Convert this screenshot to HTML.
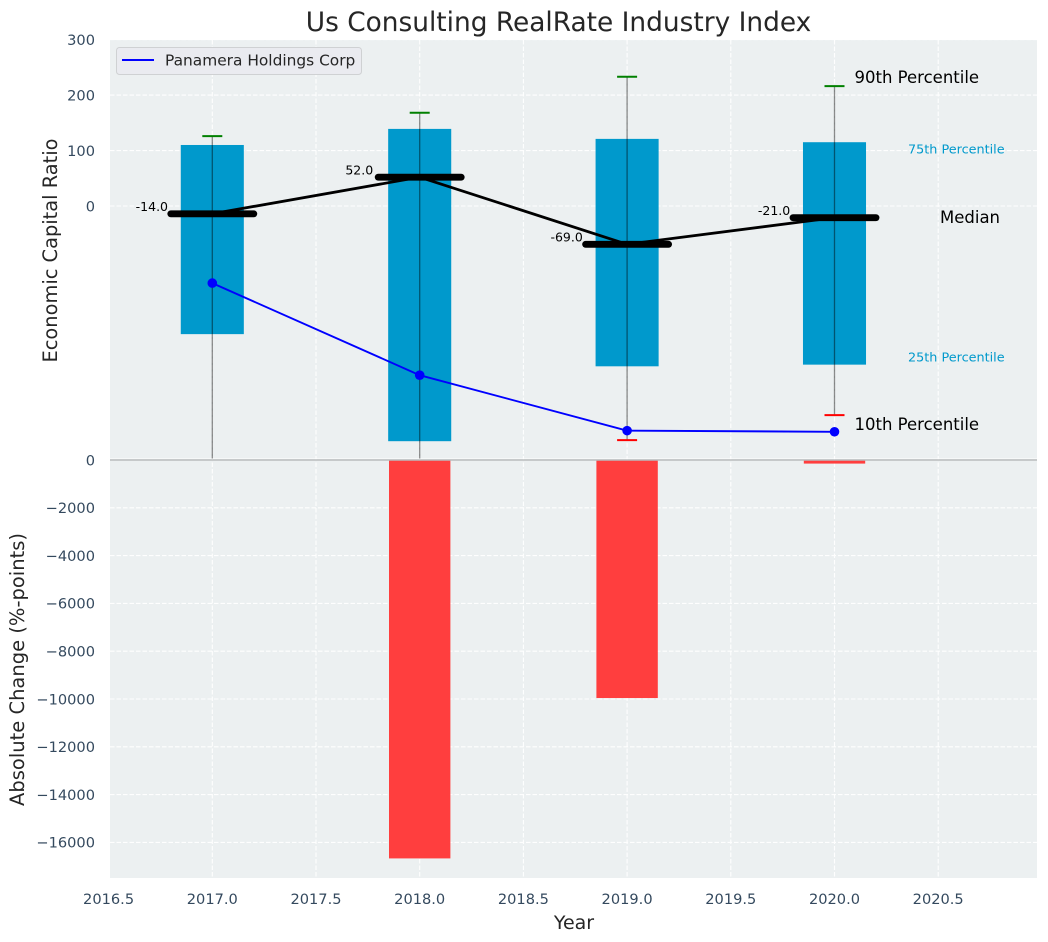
<!DOCTYPE html>
<html lang="en">
<head>
<meta charset="utf-8">
<title>Us Consulting RealRate Industry Index</title>
<style>
html,body{margin:0;padding:0;background:#fff;width:1048px;height:942px;overflow:hidden}
svg{display:block;font-family:"DejaVu Sans","Liberation Sans",sans-serif}
</style>
</head>
<body>
<svg id="chart" xmlns="http://www.w3.org/2000/svg" width="1048" height="942" viewBox="0 0 1048 942">
  <defs>
    <clipPath id="clip-top"><rect x="110" y="40" width="927" height="418.5"/></clipPath>
    <clipPath id="clip-bottom"><rect x="110" y="460" width="927" height="418"/></clipPath>
  </defs>
  <rect x="110" y="40" width="927" height="418.5" fill="#ecf0f1"/>
  <rect x="110" y="459" width="927" height="419" fill="#ecf0f1"/>
  <g id="grid"></g>
  <g id="lower-bars" clip-path="url(#clip-bottom)"></g>
  <line x1="110" x2="1037" y1="460" y2="460" stroke="#b9bcbd" stroke-width="1.4"/>
  <g id="upper-marks" clip-path="url(#clip-top)"></g>
  <g id="ticks"></g>
  <g id="annotations"></g>

  <text x="558.5" y="31" text-anchor="middle" font-size="26.4" fill="#262626">Us Consulting RealRate Industry Index</text>
  <text x="574" y="929" text-anchor="middle" font-size="19" fill="#262626">Year</text>
  <text transform="translate(57,250.5) rotate(-90)" text-anchor="middle" font-size="19.4" fill="#262626">Economic Capital Ratio</text>
  <text transform="translate(24,669.5) rotate(-90)" text-anchor="middle" font-size="19.5" fill="#262626">Absolute Change (%-points)</text>

  <g>
    <rect x="116.5" y="47.5" width="245" height="27" rx="3" fill="#eaebf0" stroke="#cfd1d3" stroke-width="1"/>
    <line x1="122" x2="154" y1="60" y2="60" stroke="#0000ff" stroke-width="2"/>
    <text x="165" y="65.5" font-size="15.4" fill="#262626">Panamera Holdings Corp</text>
  </g>
</svg>
<script>
const years = [2017, 2018, 2019, 2020];
const p90 = [126, 168, 233, 216];
const p75 = [110, 139, 121, 115];
const median = [-14, 52, -69, -21];
const p25 = [-231, -424, -289, -286];
const p10 = [-470, -480, -422, -377];
const company = [-139, -305, -405, -407];
const absChange = [0, -16670, -9960, -150];
const xTicks = [2016.5, 2017, 2017.5, 2018, 2018.5, 2019, 2019.5, 2020, 2020.5];
const upperTicks = [300, 200, 100, 0];
const lowerTicks = [0, -2000, -4000, -6000, -8000, -10000, -12000, -14000, -16000];

const NS = 'http://www.w3.org/2000/svg';
const xAt = v => 212.3 + (v - 2017) * 207.4;
const yUp = v => 206 - v * 0.5547;
const yLow = v => 460 - v * 0.0239;
const BAR_HALF = 0.152;
const RED_HALF = 0.148;
const MED_HALF = 0.2;
const LABEL_OFFSET = 0.2915;

function mk(parent, tag, attrs, txt) {
  const el = document.createElementNS(NS, tag);
  for (const k in attrs) el.setAttribute(k, attrs[k]);
  if (txt !== undefined) el.textContent = txt;
  parent.appendChild(el);
  return el;
}
const gGrid = document.getElementById('grid');
const gTicks = document.getElementById('ticks');
const gLow = document.getElementById('lower-bars');
const gUp = document.getElementById('upper-marks');
const gAnn = document.getElementById('annotations');
const gridStyle = {stroke: '#ffffff', 'stroke-width': 1.1, 'stroke-dasharray': '4.5 2', opacity: 0.95};

xTicks.forEach(t => {
  if (t > 2016.6) {
    const a = mk(gGrid, 'line', Object.assign({x1: xAt(t), x2: xAt(t), y1: 40, y2: 878}, gridStyle));
    
    
  }
  const l = mk(gTicks, 'text', {x: xAt(t), y: 904, 'text-anchor': 'middle', 'font-size': 14.6, fill: '#34495e'}, t.toFixed(1));
  
  
});
upperTicks.forEach(t => {
  const a = mk(gGrid, 'line', Object.assign({x1: 110, x2: 1037, y1: yUp(t), y2: yUp(t)}, gridStyle));
  
  
  const l = mk(gTicks, 'text', {x: 95, y: yUp(t) + 5.3, 'text-anchor': 'end', 'font-size': 14.6, fill: '#34495e'}, String(t));
  
  
});
lowerTicks.forEach(t => {
  if (t !== 0) {
    const a = mk(gGrid, 'line', Object.assign({x1: 110, x2: 1037, y1: yLow(t), y2: yLow(t)}, gridStyle));
    
    
  }
  const l = mk(gTicks, 'text', {x: 95, y: yLow(t) + 5.3, 'text-anchor': 'end', 'font-size': 14.6, fill: '#34495e'}, String(t).replace('-', '\u2212'));
  
  
});

years.forEach((yr, i) => {
  const h = yLow(absChange[i]) - yLow(0);
  if (h > 0) {
    const r = mk(gLow, 'rect', {x: xAt(yr - RED_HALF), y: yLow(0), width: xAt(yr + RED_HALF) - xAt(yr - RED_HALF), height: h, fill: '#ff3e3e'});
    
    
  }
  const x0 = xAt(yr - BAR_HALF), x1 = xAt(yr + BAR_HALF);
  const b = mk(gUp, 'rect', {x: x0, y: yUp(p75[i]), width: x1 - x0, height: yUp(p25[i]) - yUp(p75[i]), fill: '#0099cc'});
  
  
});
years.forEach((yr, i) => {
  const x = xAt(yr);
  const w = mk(gUp, 'line', {x1: x, x2: x, y1: yUp(p90[i]), y2: yUp(p10[i]), stroke: '#000000', 'stroke-opacity': 0.45, 'stroke-width': 1.3});
  
  
  const capHi = mk(gUp, 'line', {x1: x - 10, x2: x + 10, y1: yUp(p90[i]), y2: yUp(p90[i]), stroke: '#008000', 'stroke-width': 2});
  
  
  const capLo = mk(gUp, 'line', {x1: x - 10, x2: x + 10, y1: yUp(p10[i]), y2: yUp(p10[i]), stroke: '#ff0000', 'stroke-width': 2});
  
  
});

const medianPts = years.map((yr, i) => xAt(yr) + ',' + yUp(median[i])).join(' ');
const medLine = mk(gUp, 'polyline', {points: medianPts, fill: 'none', stroke: '#000', 'stroke-width': 2.8, 'stroke-linejoin': 'round'});


years.forEach((yr, i) => {
  const m = mk(gUp, 'line', {x1: xAt(yr - MED_HALF), x2: xAt(yr + MED_HALF), y1: yUp(median[i]), y2: yUp(median[i]), stroke: '#000', 'stroke-width': 6.9, 'stroke-linecap': 'round'});
  
  
  const t = mk(gUp, 'text', {x: xAt(yr - LABEL_OFFSET), y: yUp(median[i]) - 2.7, 'text-anchor': 'middle', 'font-size': 12.5, fill: '#000'}, median[i].toFixed(1));
  
  
});

const companyPts = years.map((yr, i) => xAt(yr) + ',' + yUp(company[i])).join(' ');
const coLine = mk(gUp, 'polyline', {points: companyPts, fill: 'none', stroke: '#0000ff', 'stroke-width': 1.9});


years.forEach((yr, i) => {
  const c = mk(gUp, 'circle', {cx: xAt(yr), cy: yUp(company[i]), r: 4.8, fill: '#0000ff'});
  
  
});

const lastX = xAt(years[3]);
const lastI = years.length - 1;
const a90 = mk(gAnn, 'text', {x: lastX + 20, y: yUp(p90[lastI]) - 3.2, 'font-size': 16.5, fill: '#000'}, '90th Percentile');


const a75 = mk(gAnn, 'text', {x: 908, y: 153.5, 'font-size': 12.8, fill: '#0099cc'}, '75th Percentile');


const aMed = mk(gAnn, 'text', {x: 940, y: 223, 'font-size': 16.5, fill: '#000'}, 'Median');


const a25 = mk(gAnn, 'text', {x: 908, y: 361.5, 'font-size': 12.8, fill: '#0099cc'}, '25th Percentile');


const a10 = mk(gAnn, 'text', {x: lastX + 20, y: yUp(p10[lastI]) + 15, 'font-size': 16.5, fill: '#000'}, '10th Percentile');


</script>
</body>
</html>
